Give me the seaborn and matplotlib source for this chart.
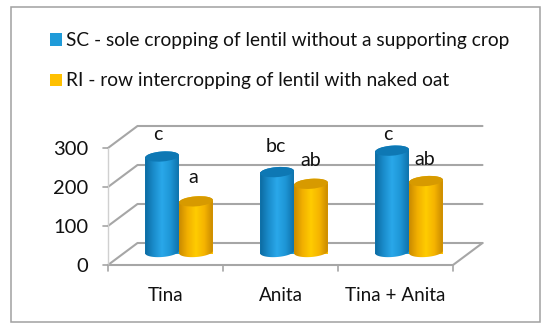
import numpy as np
import pandas as pd
import matplotlib
matplotlib.use("Agg")
import matplotlib.pyplot as plt
from matplotlib.colors import LinearSegmentedColormap
from matplotlib.patches import Ellipse, Rectangle, PathPatch
from matplotlib.path import Path
from matplotlib.transforms import Affine2D, IdentityTransform
import seaborn as sns

categories = ["Tina", "Anita", "Tina + Anita"]
series_names = ["SC - sole cropping of lentil without a supporting crop",
                "RI - row intercropping of lentil with naked oat"]
sc_values = [250, 210, 265]
ri_values = [135, 180, 187]
sc_letters = ["c", "bc", "c"]
ri_letters = ["a", "ab", "ab"]
y_ticks = [0, 100, 200, 300]

sns.set_theme(style="white")
plt.rcParams["font.family"] = ["Lato", "DejaVu Sans"]

W, H = 550, 330
fig = plt.figure(figsize=(W / 100, H / 100), dpi=100, facecolor="white")
ax = fig.add_axes([121.5 / W, (H - 254) / H, 345 / W, 117 / H])
ax.patch.set_visible(False)

df = pd.DataFrame({
    "cat": categories * 2,
    "series": [series_names[0]] * 3 + [series_names[1]] * 3,
    "value": sc_values + ri_values,
})
palette = {series_names[0]: "#1F9BD9", series_names[1]: "#FFC000"}
sns.barplot(data=df, x="cat", y="value", hue="series", palette=palette, width=0.59,
            gap=0, saturation=1, linewidth=0, ax=ax, legend=True, zorder=3)
ax.set_xlim(-0.5, 2.5)
ax.set_ylim(0, 300)
ax.set_xlabel("")
ax.set_ylabel("")
for s in ax.spines.values():
    s.set_visible(False)

# pseudo-3D offsets in pixels
front = ax.transData + Affine2D().translate(-13.5, -11)
back = ax.transData + Affine2D().translate(16, 11)
GRID = "#A6A6A6"
ident = IdentityTransform()
LZ = -1
for v in y_ticks:
    p0 = front.transform((-0.5, v))
    p1 = back.transform((-0.5, v))
    p2 = back.transform((2.5, v))
    fig.add_artist(plt.Line2D([p0[0], p1[0], p2[0]], [p0[1], p1[1], p2[1]], color=GRID,
                              lw=1.5, transform=ident, zorder=LZ))
    fig.add_artist(plt.Line2D([p0[0] - 5, p0[0]], [p0[1], p0[1]], color=GRID, lw=1.2,
                              transform=ident, zorder=LZ))
a = front.transform((-0.5, 0)); b = front.transform((2.5, 0)); c = back.transform((2.5, 0))
t = front.transform((-0.5, 300))
fig.add_artist(plt.Line2D([a[0], b[0], c[0]], [a[1], b[1], c[1]], color=GRID, lw=1.5,
                          transform=ident, zorder=LZ))
fig.add_artist(plt.Line2D([a[0], t[0]], [a[1], t[1]], color="#D0D0D0", lw=1,
                          transform=ident, zorder=LZ))
for k in range(4):
    q = front.transform((k - 0.5, 0))
    fig.add_artist(plt.Line2D([q[0], q[0]], [q[1], q[1] - 6], color=GRID, lw=1.2,
                              transform=ident, zorder=LZ))

# tick labels on the front plane
ax.set_xticks(range(3), categories)
ax.set_yticks(y_ticks)
ax.tick_params(axis="x", length=0, pad=15.5, labelsize=13.6, labelcolor="#111111")
ax.tick_params(axis="y", length=0, pad=14, labelsize=14.5, labelcolor="#111111")
shift = Affine2D().translate(-13.5, -11)
for lab in ax.get_xticklabels() + ax.get_yticklabels():
    lab.set_transform(lab.get_transform() + shift)

# cylinders built on the bars seaborn drew
cmaps = [LinearSegmentedColormap.from_list("b", ["#0C6AA0", "#1A8CCB", "#2AA8EA", "#1E96D6", "#0F72AB"]),
         LinearSegmentedColormap.from_list("o", ["#C98A00", "#F2B000", "#FFCC00", "#F5B400", "#C98A00"])]
cap_colors = ["#0E78B4", "#D79A00"]
grad = np.linspace(0, 1, 128).reshape(1, -1)
bars = [p for p in ax.patches if p.get_height() > 0]
fig.canvas.draw()
tilt = np.deg2rad(4.5)
B = 5.0
def ell(cx, cy, hw, th):
    x = hw * np.cos(th)
    y = B * np.sin(th)
    return np.c_[cx + x * np.cos(tilt) - y * np.sin(tilt), cy + x * np.sin(tilt) + y * np.cos(tilt)]
order = sorted(range(len(bars)), key=lambda i: bars[i].get_x())
z = 4
for i in order:
    bar = bars[i]
    s = 0 if i < 3 else 1
    x0, y0 = ax.transData.transform((bar.get_x(), 0))
    x1, y1 = ax.transData.transform((bar.get_x() + bar.get_width(), bar.get_height()))
    cx = (x0 + x1) / 2
    hw = (x1 - x0) / 2
    lower = ell(cx, y0 + 2, hw, np.linspace(np.pi, 2 * np.pi, 40))
    upper = ell(cx, y1, hw, np.linspace(0, np.pi, 40))
    verts = np.vstack([lower, upper, lower[:1]])
    clip = Path(verts, closed=True)
    im = ax.imshow(grad, cmap=cmaps[s], aspect="auto", zorder=z,
                   extent=(bar.get_x(), bar.get_x() + bar.get_width(), -20, bar.get_height() + 20))
    im.set_clip_box(fig.bbox)
    im.set_clip_path(PathPatch(clip, transform=IdentityTransform()))
    cap = Ellipse((cx, y1), 2 * hw, 2 * B, angle=np.rad2deg(tilt), fc=cap_colors[s], ec="none",
                  transform=IdentityTransform(), zorder=z + 0.5, clip_on=False)
    ax.add_artist(cap)
    z += 1
ax.set_xlim(-0.5, 2.5)
ax.set_ylim(0, 300)

# significance letters
letters = sc_letters + ri_letters
lift = [22, 26, 16, 24, 23, 22]
nudge = [-4, -1, -4, -3, 0, -1]
for i, bar in enumerate(bars):
    ax.annotate(letters[i], (bar.get_x() + bar.get_width() / 2, bar.get_height()),
                xytext=(nudge[i] / 1.39, lift[i] / 1.39), textcoords="offset points",
                ha="center", va="center", fontsize=14, color="#111111", zorder=20,
                annotation_clip=False)

# legend
handles, labels = ax.get_legend_handles_labels()
ax.legend(handles, labels, loc="upper left", bbox_to_anchor=(50 / W, 1 - 32 / H),
          bbox_transform=fig.transFigure, frameon=False, fontsize=13.75, labelspacing=1.23,
          handlelength=0.63, handleheight=0.63, handletextpad=0.2, borderpad=0, borderaxespad=0,
          labelcolor="#111111")

fig.add_artist(Rectangle((10.5 / W, 1 - 322 / H), 529.5 / W, 315 / H, transform=fig.transFigure,
                         fc="none", ec="#A0A0A0", lw=1.1))
fig.savefig("out.png", dpi=100, facecolor="white")
